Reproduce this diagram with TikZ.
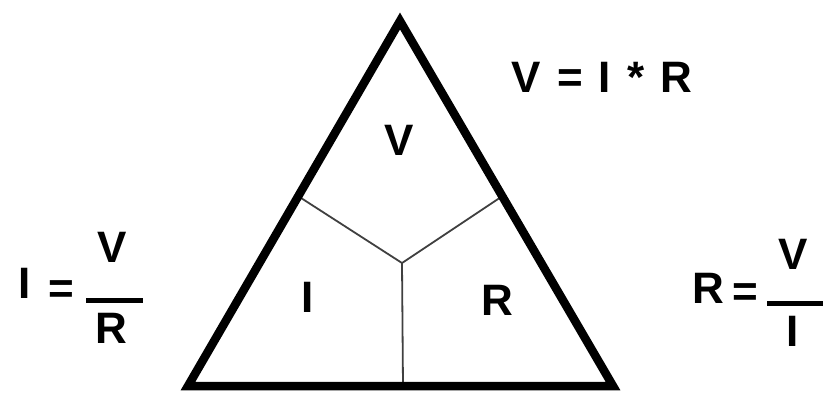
\documentclass[tikz,border=0pt]{standalone}
\usepackage{fontspec}
\setmainfont{Liberation Sans}[BoldFont={Liberation Sans Bold}]
\usetikzlibrary{calc}
\begin{document}
\begin{tikzpicture}[x=1pt,y=-1pt,
  every node/.style={inner sep=0pt, font=\fontsize{44}{50}\selectfont\bfseries,
    text height=0.716em, text depth=0pt},
  edge/.style={line width=8.5pt, line join=miter},
  split/.style={line width=1.8pt, draw=black!75}]
\useasboundingbox (0,0) rectangle (823,394);
\coordinate (top) at (400,21);
\coordinate (bl) at (188,386);
\coordinate (br) at (613,386);
\coordinate (mid) at (402,263);
\coordinate (lside) at ($(top)!0.48!(bl)$);
\coordinate (rside) at ($(top)!0.48!(br)$);
\coordinate (base) at (403,386);
% dividers
\draw[split] (lside) -- (mid) -- (rside);
\draw[split] (mid) -- (base);
\draw[edge] (top) -- (bl) -- (br) -- cycle;
% letters inside
\node (v) at (399,152) {V};
\node (i) at (308,309) {I};
\node (r) at (497,312) {R};
% formulas
\node (ohm) at (602,89) {\spaceskip=16pt V = I * R};
\node (ileft) at (25,295) {I};
\node (eqleft) at (61,300) {=};
\node (vleft) at (112,259) {V};
\node (rleft) at (111,340) {R};
\draw[line width=5pt] (86,300) -- (143,300);
\node (rright) at (708,300) {R};
\node (eqright) at (745,303) {=};
\node (vright) at (793,266) {V};
\node (iright) at (793,343) {I};
\draw[line width=5pt] (767,303) -- (823,303);
\end{tikzpicture}
\end{document}
